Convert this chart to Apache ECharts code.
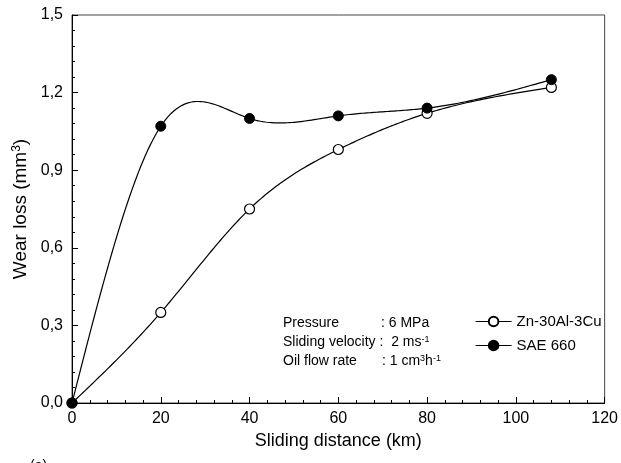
<!DOCTYPE html>
<html>
<head>
<meta charset="utf-8">
<script src="https://cdn.jsdelivr.net/npm/echarts@6/dist/echarts.min.js"></script>
<style>
html,body{margin:0;padding:0;background:#fff;}
#chart{width:621px;height:463px;}
</style>
</head>
<body>
<div id="chart"></div>
<script>
// ---- data ----
const slidingDistance = [0, 20, 40, 60, 80, 108];
const znAlCuLoss = [0, 0.35, 0.75, 0.98, 1.12, 1.22];
const sae660Loss = [0, 1.07, 1.10, 1.11, 1.14, 1.25];
const seriesNames = ['Zn-30Al-3Cu', 'SAE 660'];
const xAxisRange = [0, 120, 20];
const yAxisRange = [0, 1.5, 0.3];

const FONT = "'Liberation Sans', Arial, sans-serif";

// natural cubic spline through the data (used only to draw the connecting curve)
function naturalSpline(xs, ys) {
  const n = xs.length;
  const h = [];
  for (let i = 0; i < n - 1; i++) h.push(xs[i + 1] - xs[i]);
  const M = new Array(n).fill(0);
  const m = n - 2;
  if (m > 0) {
    const a = [], b = [], c = [], d = [];
    for (let i = 1; i <= m; i++) {
      a.push(h[i - 1]);
      b.push(2 * (h[i - 1] + h[i]));
      c.push(h[i]);
      d.push(6 * ((ys[i + 1] - ys[i]) / h[i] - (ys[i] - ys[i - 1]) / h[i - 1]));
    }
    for (let i = 1; i < m; i++) {
      const w = a[i] / b[i - 1];
      b[i] -= w * c[i - 1];
      d[i] -= w * d[i - 1];
    }
    const sol = new Array(m);
    sol[m - 1] = d[m - 1] / b[m - 1];
    for (let i = m - 2; i >= 0; i--) sol[i] = (d[i] - c[i] * sol[i + 1]) / b[i];
    for (let i = 0; i < m; i++) M[i + 1] = sol[i];
  }
  return function (x, i) {
    const x0 = xs[i], x1 = xs[i + 1], hh = h[i];
    const A = x1 - x, B = x - x0;
    return M[i] * A * A * A / (6 * hh) + M[i + 1] * B * B * B / (6 * hh) +
      (ys[i] / hh - M[i] * hh / 6) * A + (ys[i + 1] / hh - M[i + 1] * hh / 6) * B;
  };
}

function curveSeries(values) {
  const f = naturalSpline(slidingDistance, values);
  return {
    type: 'custom',
    silent: true,
    z: 1,
    data: slidingDistance.map((x, i) => [x, values[i]]),
    encode: { x: 0, y: 1 },
    renderItem: function (params, api) {
      const i = params.dataIndex;
      if (i >= slidingDistance.length - 1) return null;
      const x0 = slidingDistance[i], x1 = slidingDistance[i + 1];
      const pts = [];
      const steps = 40;
      for (let k = 0; k <= steps; k++) {
        const x = x0 + (x1 - x0) * k / steps;
        pts.push(api.coord([x, f(x, i)]));
      }
      return {
        type: 'polyline',
        shape: { points: pts },
        style: { stroke: '#000', lineWidth: 1.2, fill: null }
      };
    }
  };
}

const chart = echarts.init(document.getElementById('chart'), null, { renderer: 'canvas' });

const axisCommon = {
  axisLine: { show: true, lineStyle: { color: '#000', width: 1 } },
  axisTick: { show: true, inside: true, length: 6, lineStyle: { color: '#000' } },
  minorTick: { show: true, splitNumber: 5, length: 3, lineStyle: { color: '#000' } },
  splitLine: { show: false },
  minorSplitLine: { show: false },
  nameLocation: 'middle'
};

const option = {
  backgroundColor: '#fff',
  animation: false,
  textStyle: { fontFamily: FONT },
  grid: {
    left: 72, right: 14, top: 15, bottom: 60,
    show: true, borderColor: '#444', borderWidth: 1, backgroundColor: 'transparent'
  },
  xAxis: Object.assign({}, axisCommon, {
    type: 'value',
    min: xAxisRange[0], max: xAxisRange[1], interval: xAxisRange[2],
    name: 'Sliding distance (km)',
    nameGap: 29,
    nameTextStyle: { color: '#000', fontSize: 18, fontFamily: FONT },
    axisLabel: { color: '#000', fontSize: 16, fontFamily: FONT, margin: 8 }
  }),
  yAxis: Object.assign({}, axisCommon, {
    type: 'value',
    min: yAxisRange[0], max: yAxisRange[1], interval: yAxisRange[2],
    name: 'Wear loss (mm{sup|3})',
    nameGap: 31,
    nameRotate: 90,
    nameTextStyle: {
      color: '#000', fontSize: 19, fontFamily: FONT,
      rich: { sup: { fontSize: 12, verticalAlign: 'top', color: '#000', fontFamily: FONT } }
    },
    axisLabel: {
      color: '#000', fontSize: 16, fontFamily: FONT, margin: 9,
      formatter: v => v.toFixed(1).replace('.', ',')
    }
  }),
  legend: {
    orient: 'vertical',
    left: 470, top: 309,
    itemWidth: 36, itemHeight: 12, itemGap: 9,
    data: seriesNames,
    textStyle: { color: '#000', fontSize: 15, fontFamily: FONT },
    lineStyle: { color: '#000', width: 1.2, opacity: 1 },
    selectedMode: false
  },
  series: [
    curveSeries(znAlCuLoss),
    curveSeries(sae660Loss),
    {
      name: seriesNames[0],
      type: 'line',
      data: slidingDistance.map((x, i) => [x, znAlCuLoss[i]]),
      symbol: 'circle', symbolSize: 10, showAllSymbol: true,
      lineStyle: { color: '#000', width: 1.2, opacity: 0 },
      itemStyle: { color: '#fff', borderColor: '#000', borderWidth: 1.2 },
      z: 3
    },
    {
      name: seriesNames[1],
      type: 'line',
      data: slidingDistance.map((x, i) => [x, sae660Loss[i]]),
      symbol: 'circle', symbolSize: 10, showAllSymbol: true,
      lineStyle: { color: '#000', width: 1.2, opacity: 0 },
      itemStyle: { color: '#000', borderColor: '#000', borderWidth: 1 },
      z: 4
    }
  ],
  graphic: [
    {
      type: 'text', left: 283, top: 316,
      style: { text: 'Pressure', fill: '#000', font: '14px ' + FONT }
    },
    {
      type: 'text', left: 381, top: 316,
      style: { text: ': 6 MPa', fill: '#000', font: '14px ' + FONT }
    },
    {
      type: 'text', left: 283, top: 335,
      style: {
        text: 'Sliding velocity :  2 ms{sup|-1}', fill: '#000', font: '14px ' + FONT,
        rich: { sup: { fontSize: 9, verticalAlign: 'top', fill: '#000', fontFamily: FONT } }
      }
    },
    {
      type: 'text', left: 283, top: 354,
      style: { text: 'Oil flow rate', fill: '#000', font: '14px ' + FONT }
    },
    {
      type: 'text', left: 382, top: 354,
      style: {
        text: ': 1 cm{sup|3}h{sup|-1}', fill: '#000', font: '14px ' + FONT,
        rich: { sup: { fontSize: 9, verticalAlign: 'top', fill: '#000', fontFamily: FONT } }
      }
    },
    {
      type: 'text', left: 30, top: 459,
      style: { text: '(a)', fill: '#000', font: '14px ' + FONT }
    }
  ]
};

chart.setOption(option);
</script>
</body>
</html>
